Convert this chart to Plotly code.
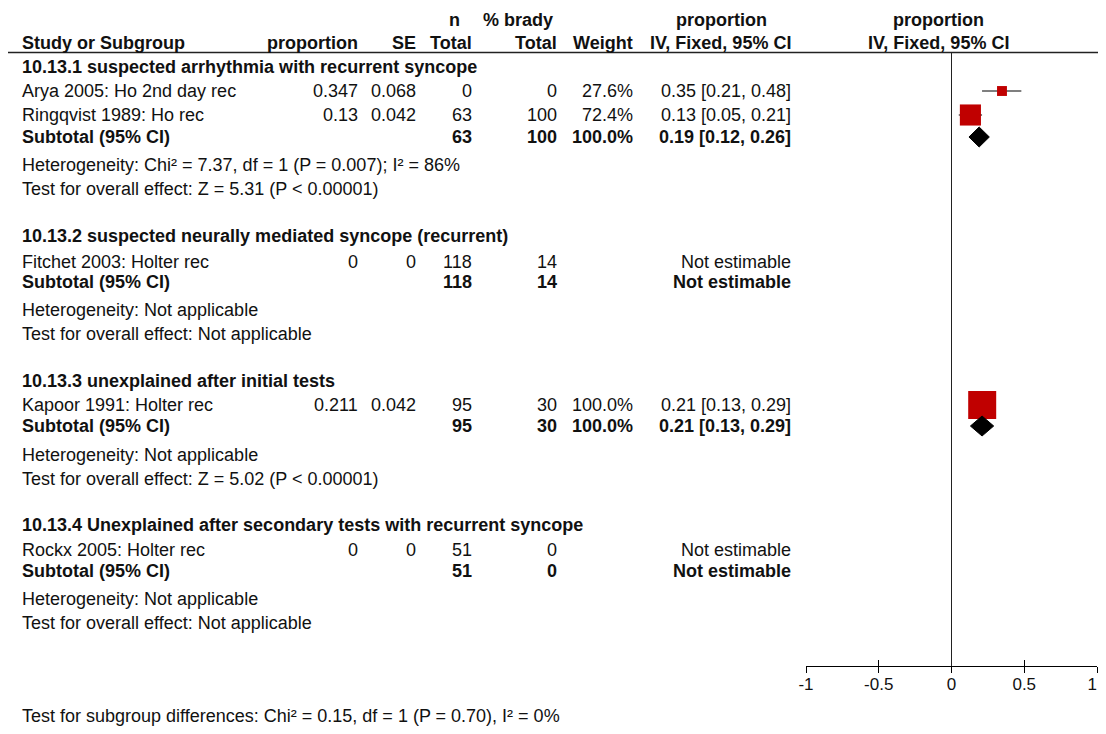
import plotly.graph_objects as go

# page is 1106x734; the browser body has an 8px margin, so the figure starts at (8, 8)
PAGE_W, PAGE_H = 1106, 734
OFF = 8
W, H = PAGE_W - OFF, PAGE_H - 2 * OFF

# ---------------- data ----------------
group_titles = [
    "10.13.1 suspected arrhythmia with recurrent syncope",
    "10.13.2 suspected neurally mediated syncope (recurrent)",
    "10.13.3 unexplained after initial tests",
    "10.13.4 Unexplained after secondary tests with recurrent syncope",
]
study_names = [
    "Arya 2005: Ho 2nd day rec",
    "Ringqvist 1989: Ho rec",
    "Fitchet 2003: Holter rec",
    "Kapoor 1991: Holter rec",
    "Rockx 2005: Holter rec",
]
study_group = [0, 0, 1, 2, 3]
study_prop = [0.347, 0.13, 0, 0.211, 0]
study_se = [0.068, 0.042, 0, 0.042, 0]
study_n = [0, 63, 118, 95, 51]
study_brady = [0, 100, 14, 30, 0]
study_weight = [27.6, 72.4, None, 100.0, None]
study_est = [0.35, 0.13, None, 0.21, None]
study_lo = [0.21, 0.05, None, 0.13, None]
study_hi = [0.48, 0.21, None, 0.29, None]

sub_n = [63, 118, 95, 51]
sub_brady = [100, 14, 30, 0]
sub_weight = [100.0, None, 100.0, None]
sub_est = [0.19, None, 0.21, None]
sub_lo = [0.12, None, 0.13, None]
sub_hi = [0.26, None, 0.29, None]
het_text = [
    "Heterogeneity: Chi² = 7.37, df = 1 (P = 0.007); I² = 86%",
    "Heterogeneity: Not applicable",
    "Heterogeneity: Not applicable",
    "Heterogeneity: Not applicable",
]
effect_text = [
    "Test for overall effect: Z = 5.31 (P < 0.00001)",
    "Test for overall effect: Not applicable",
    "Test for overall effect: Z = 5.02 (P < 0.00001)",
    "Test for overall effect: Not applicable",
]
subgroup_test = "Test for subgroup differences: Chi² = 0.15, df = 1 (P = 0.70), I² = 0%"
axis_ticks = [-1, -0.5, 0, 0.5, 1]
axis_labels = ["-1", "-0.5", "0", "0.5", "1"]

# ---------------- layout (page pixel positions) ----------------
FONT = "Liberation Sans, Arial, sans-serif"
FS = 18
TICK_FS = 17
TXT = "#111111"
RED = "#C00000"

hdr_y1, hdr_y2, hdr_line_y = 20, 43, 52.5
group_rows = [
    dict(head=67, studies=[91, 115], sub=137, het=165, eff=189),
    dict(head=236, studies=[262], sub=282, het=310, eff=334),
    dict(head=381, studies=[405], sub=426, het=455, eff=479),
    dict(head=525, studies=[550], sub=571, het=599, eff=623),
]
axis_y = 666
subgroup_y = 716

x_name = 22
x_prop, x_se, x_n, x_brady, x_weight, x_ci = 358, 416, 472, 557, 633, 791
plot_left, plot_right = 806, 1097
diamond_half_h = 10


def px(xpage):
    return (xpage - OFF) / W


annotations = []


def txt(text, xpage, ypage, anchor="right", bold=False, size=FS):
    if bold:
        text = "<b>" + text + "</b>"
    annotations.append(dict(
        text=text, x=px(xpage), xref="paper", y=ypage, yref="y",
        xanchor=anchor, yanchor="middle", align=anchor, showarrow=False,
        font=dict(family=FONT, size=size, color=TXT), borderpad=0, borderwidth=0,
    ))


def fmt(v):
    return f"{v:g}"


# headers
txt("n", 454, hdr_y1, "center", True)
txt("% brady", 553, hdr_y1, "right", True)
txt("proportion", 721, hdr_y1, "center", True)
txt("proportion", 938, hdr_y1, "center", True)
txt("Study or Subgroup", x_name, hdr_y2, "left", True)
txt("proportion", x_prop, hdr_y2, "right", True)
txt("SE", x_se, hdr_y2, "right", True)
txt("Total", x_n, hdr_y2, "right", True)
txt("Total", x_brady, hdr_y2, "right", True)
txt("Weight", x_weight, hdr_y2, "right", True)
txt("IV, Fixed, 95% CI", x_ci, hdr_y2, "right", True)
txt("IV, Fixed, 95% CI", 938, hdr_y2, "center", True)

# rows
study_y = [None] * len(study_names)
counters = [0] * len(group_titles)
for i, g in enumerate(study_group):
    study_y[i] = group_rows[g]["studies"][counters[g]]
    counters[g] += 1

for g, title in enumerate(group_titles):
    r = group_rows[g]
    txt(title, x_name, r["head"], "left", True)
    txt("Subtotal (95% CI)", x_name, r["sub"], "left", True)
    txt(str(sub_n[g]), x_n, r["sub"], "right", True)
    txt(str(sub_brady[g]), x_brady, r["sub"], "right", True)
    if sub_weight[g] is not None:
        txt(f"{sub_weight[g]:.1f}%", x_weight, r["sub"], "right", True)
    if sub_est[g] is not None:
        txt(f"{sub_est[g]:.2f} [{sub_lo[g]:.2f}, {sub_hi[g]:.2f}]", x_ci, r["sub"], "right", True)
    else:
        txt("Not estimable", x_ci, r["sub"], "right", True)
    txt(het_text[g], x_name, r["het"], "left")
    txt(effect_text[g], x_name, r["eff"], "left")

for i, name in enumerate(study_names):
    y = study_y[i]
    txt(name, x_name, y, "left")
    txt(fmt(study_prop[i]), x_prop, y, "right")
    txt(fmt(study_se[i]), x_se, y, "right")
    txt(str(study_n[i]), x_n, y, "right")
    txt(str(study_brady[i]), x_brady, y, "right")
    if study_weight[i] is not None:
        txt(f"{study_weight[i]:.1f}%", x_weight, y, "right")
    if study_est[i] is not None:
        txt(f"{study_est[i]:.2f} [{study_lo[i]:.2f}, {study_hi[i]:.2f}]", x_ci, y, "right")
    else:
        txt("Not estimable", x_ci, y, "right")

txt(subgroup_test, x_name, subgroup_y, "left")

# ---------------- traces ----------------
fig = go.Figure()

wx, wy = [], []
sx, sy, ss = [], [], []
for i in range(len(study_names)):
    if study_est[i] is None:
        continue
    wx += [study_lo[i], study_hi[i], None]
    wy += [study_y[i], study_y[i], None]
    sx.append(study_prop[i])
    sy.append(study_y[i])
    ss.append(3 + 25 * study_weight[i] / 100.0)

fig.add_trace(go.Scatter(x=wx, y=wy, mode="lines", line=dict(color="#555555", width=1.5),
                         hoverinfo="skip", showlegend=False))
fig.add_trace(go.Scatter(x=sx, y=sy, mode="markers",
                         marker=dict(symbol="square", size=ss, color=RED, opacity=1,
                                     line=dict(width=0)),
                         showlegend=False))

for g in range(len(group_titles)):
    if sub_est[g] is None:
        continue
    yc = group_rows[g]["sub"]
    fig.add_trace(go.Scatter(
        x=[sub_lo[g], sub_est[g], sub_hi[g], sub_est[g], sub_lo[g]],
        y=[yc, yc - diamond_half_h, yc, yc + diamond_half_h, yc],
        mode="lines", fill="toself", fillcolor="black",
        line=dict(color="black", width=1), showlegend=False, hoverinfo="skip"))

# dummy trace for overlay axis (inside ticks)
fig.add_trace(go.Scatter(x=[axis_ticks[0], axis_ticks[-1]], y=[None, None], xaxis="x2",
                         mode="markers", showlegend=False, hoverinfo="skip"))

axis_pos = 1 - (axis_y - OFF) / H
dom = [px(plot_left), px(plot_right)]

# the last label sits at the page edge: pad it so its glyph stays fully visible
tick_text = [lab if k < len(axis_labels) - 1 else lab + "\u2007"
             for k, lab in enumerate(axis_labels)]

fig.update_layout(
    width=W, height=H, autosize=False,
    margin=dict(l=0, r=0, t=0, b=0, pad=0, autoexpand=False),
    paper_bgcolor="white", plot_bgcolor="rgba(0,0,0,0)",
    annotations=annotations,
    xaxis=dict(domain=dom, range=[axis_ticks[0], axis_ticks[-1]], anchor="free", position=axis_pos,
               showgrid=False, zeroline=False, showline=True, linecolor="black", linewidth=1,
               ticks="outside", ticklen=6, tickwidth=1, tickcolor="black",
               tickvals=axis_ticks, ticktext=tick_text, automargin=False,
               ticklabelstandoff=-3, ticklabeloverflow="allow",
               tickfont=dict(family=FONT, size=TICK_FS, color=TXT), fixedrange=True),
    xaxis2=dict(domain=dom, range=[axis_ticks[0], axis_ticks[-1]], overlaying="x", anchor="free",
                position=axis_pos, showgrid=False, zeroline=False, showline=False,
                ticks="inside", ticklen=6, tickwidth=1, tickcolor="black", automargin=False,
                tickvals=axis_ticks, showticklabels=False, fixedrange=True),
    yaxis=dict(domain=[0, 1], range=[H + OFF, OFF], visible=False, fixedrange=True,
               automargin=False),
    shapes=[
        dict(type="line", xref="paper", yref="y", x0=0, x1=1, y0=hdr_line_y, y1=hdr_line_y,
             line=dict(color="#222222", width=1.5)),
        dict(type="line", xref="x", yref="y", x0=0, x1=0, y0=hdr_line_y, y1=axis_y,
             line=dict(color="#222222", width=1)),
    ],
)

fig.write_html("out.html", config={"displayModeBar": False, "staticPlot": True})
